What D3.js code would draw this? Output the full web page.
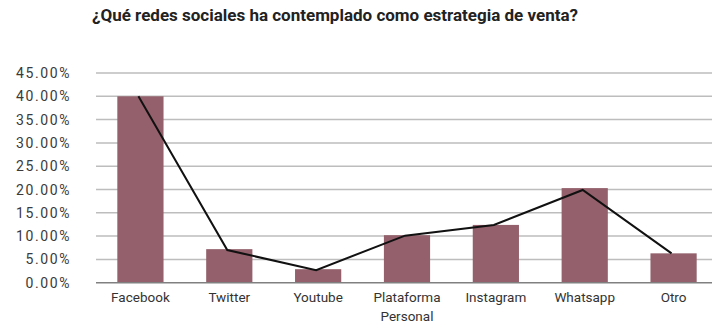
<html>
<head><meta charset="utf-8"></head>
<script src="https://d3js.org/d3.v7.min.js"></script>
<style>
body{margin:0;background:#fff;}
svg{display:block;font-family:"Roboto",sans-serif;}
</style>
<div id="chart"></div>
<script>
const title = '¿Qué redes sociales ha contemplado como estrategia de venta?';
const categories = ['Facebook', 'Twitter', 'Youtube', 'Plataforma\nPersonal', 'Instagram', 'Whatsapp', 'Otro'];
const barValues = [0.40, 0.072, 0.029, 0.102, 0.124, 0.203, 0.063];
const lineValues = [0.40, 0.070, 0.027, 0.101, 0.124, 0.199, 0.063];
const yTicks = [0, 0.05, 0.10, 0.15, 0.20, 0.25, 0.30, 0.35, 0.40, 0.45];

const width = 712;
const height = 332;
const margin = { top: 73, left: 96, bottom: 50, right: -6 };

const svg = d3.select('#chart').append('svg')
  .attr('width', width)
  .attr('height', height);

const x = d3.scaleBand()
  .domain(categories)
  .range([margin.left, width - margin.right])
  .paddingInner(0.48)
  .paddingOuter(0.24);

const y = d3.scaleLinear()
  .domain([0, 0.45])
  .range([height - margin.bottom + 0.7, margin.top]);

svg.append('text')
  .attr('x', 92)
  .attr('y', 21)
  .attr('font-size', 16)
  .attr('font-weight', 'bold')
  .attr('fill', '#222')
  .attr('textLength', 486)
  .attr('lengthAdjust', 'spacingAndGlyphs')
  .text(title);

// grid lines
svg.append('g')
  .selectAll('line')
  .data(yTicks.slice(1))
  .enter().append('line')
    .attr('x1', margin.left)
    .attr('x2', width)
    .attr('y1', d => y(d))
    .attr('y2', d => y(d))
    .attr('stroke', '#bdbdbd')
    .attr('stroke-width', 1.5);

// y labels
svg.append('g')
  .selectAll('text')
  .data(yTicks)
  .enter().append('text')
    .attr('x', 71)
    .attr('y', d => y(d))
    .attr('dy', '0.36em')
    .attr('text-anchor', 'end')
    .attr('font-size', 14)
    .attr('letter-spacing', 1.6)
    .attr('fill', '#3a3a3a')
    .text(d => d3.format('.2%')(d));

// bars
svg.append('g')
  .selectAll('rect')
  .data(barValues)
  .enter().append('rect')
    .attr('x', (d, i) => x(categories[i]))
    .attr('y', d => y(d))
    .attr('width', x.bandwidth())
    .attr('height', d => y(0) - y(d))
    .attr('fill', '#93606b');

// baseline
svg.append('line')
  .attr('x1', margin.left)
  .attr('x2', width)
  .attr('y1', y(0))
  .attr('y2', y(0))
  .attr('stroke', '#808080')
  .attr('stroke-width', 1.5);

// line
const line = d3.line()
  .x((d, i) => x(categories[i]) + x.bandwidth() / 2 - 2)
  .y(d => y(d));

svg.append('path')
  .attr('d', line(lineValues))
  .attr('fill', 'none')
  .attr('stroke', '#111')
  .attr('stroke-width', 2);

// x labels
const xl = svg.append('g')
  .selectAll('text')
  .data(categories)
  .enter().append('text')
    .attr('x', d => x(d) + x.bandwidth() / 2)
    .attr('y', 302)
    .attr('text-anchor', 'middle')
    .attr('font-size', 13.5)
    .attr('fill', '#333');

xl.selectAll('tspan')
  .data(d => d.split('\n'))
  .enter().append('tspan')
    .attr('x', function(){ return this.parentNode.getAttribute('x'); })
    .attr('dy', (d, i) => i ? '1.4em' : 0)
    .text(d => d);
</script>
</html>
